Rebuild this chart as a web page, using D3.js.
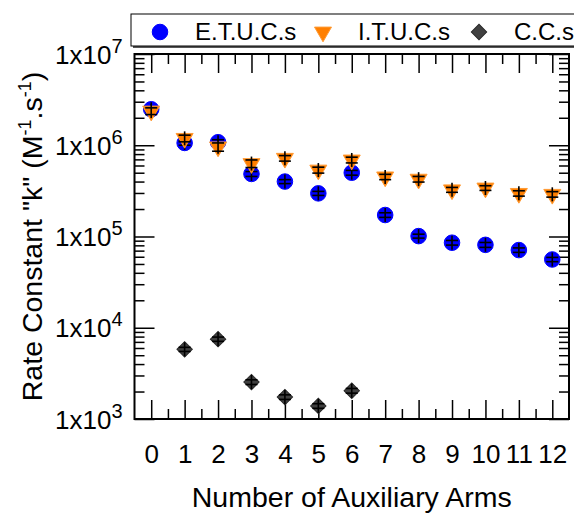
<!DOCTYPE html>
<html>
<head>
<meta charset="utf-8">
<script src="https://cdn.jsdelivr.net/npm/d3@7"></script>
<style>
  body { margin: 0; background: #fff; }
  text { font-family: "Liberation Sans", Arial, sans-serif; fill: #000; }
</style>
</head>
<body>
<svg id="chart" width="574" height="516"></svg>
<script>
// data
let arms = [0, 1, 2, 3, 4, 5, 6, 7, 8, 9, 10, 11, 12];
let seriesNames = ["E.T.U.C.s", "I.T.U.C.s", "C.C.s"];
let etucs = [2.48e6, 1.06e6, 1.08e6, 4.85e5, 4.0e5, 2.97e5, 5.0e5, 1.72e5, 1.01e5, 8.55e4, 8.1e4, 7.1e4, 5.6e4];
let etucsErr = [1.5e5, 6e4, 7e4, 3e4, 2e4, 1.5e4, 3e4, 1e4, 5e3, 5e3, 5e3, 4e3, 3e3];
let itucs = [2.37e6, 1.19e6, 9.6e5, 6.3e5, 7.2e5, 5.35e5, 6.9e5, 4.5e5, 4.25e5, 3.25e5, 3.4e5, 2.97e5, 2.9e5];
let itucsErr = [2e5, 1e5, 1e5, 6e4, 5e4, 4e4, 5e4, 3e4, 3e4, 2e4, 2e4, 2e4, 2e4];
let ccArms = [1, 2, 3, 4, 5, 6];
let ccs = [5.8e3, 7.5e3, 2.54e3, 1.74e3, 1.39e3, 2.04e3];
let ccsErr = [3e2, 4e2, 1.5e2, 1e2, 8e1, 1.2e2];
let yDecades = [1e3, 1e4, 1e5, 1e6, 1e7];

function RateChart() {
    let self = this;
    let svg = d3.select('#chart');
    let left = 134.5, right = 569, top = 54, bottom = 419;

    self.x = d3.scaleLinear().domain([-0.5, 12.5]).range([left, right]);
    self.y = d3.scaleLog().domain([1e3, 1e7]).range([bottom, top]);

    let minorY = self.y.ticks().filter(v => yDecades.indexOf(v) < 0);
    let minorX = arms.slice(0, -1).map(a => a + 0.5);

    function styleAxis(g) {
        g.select('.domain').remove();
        g.selectAll('.tick line').attr('stroke', '#000').attr('stroke-width', 1.5);
    }

    // bottom axis, ticks pointing in
    svg.append('g').attr('transform', 'translate(0,' + bottom + ')')
        .call(d3.axisBottom(self.x).tickValues(arms).tickSizeInner(-19).tickPadding(26).tickFormat(d3.format('d')))
        .call(styleAxis)
        .call(g => g.selectAll('.tick text').attr('font-size', 26));
    svg.append('g').attr('transform', 'translate(0,' + bottom + ')')
        .call(d3.axisBottom(self.x).tickValues(minorX).tickSizeInner(-10).tickFormat(''))
        .call(styleAxis);
    // top mirror
    svg.append('g').attr('transform', 'translate(0,' + top + ')')
        .call(d3.axisTop(self.x).tickValues(arms).tickSizeInner(-19).tickFormat(''))
        .call(styleAxis);
    svg.append('g').attr('transform', 'translate(0,' + top + ')')
        .call(d3.axisTop(self.x).tickValues(minorX).tickSizeInner(-10).tickFormat(''))
        .call(styleAxis);

    // left axis with 1x10^n labels
    let yAxis = svg.append('g').attr('transform', 'translate(' + left + ',0)')
        .call(d3.axisLeft(self.y).tickValues(yDecades).tickSizeInner(-20).tickPadding(12).tickFormat(''))
        .call(styleAxis);
    yAxis.selectAll('.tick text')
        .attr('font-size', 26)
        .attr('dy', '0.35em')
        .each(function(d) {
            let t = d3.select(this);
            t.append('tspan').text('1x10');
            t.append('tspan').attr('font-size', 20).attr('dy', -11).text(Math.round(Math.log10(d)));
        });
    svg.append('g').attr('transform', 'translate(' + left + ',0)')
        .call(d3.axisLeft(self.y).tickValues(minorY).tickSizeInner(-10).tickFormat(''))
        .call(styleAxis);
    // right mirror
    svg.append('g').attr('transform', 'translate(' + right + ',0)')
        .call(d3.axisRight(self.y).tickValues(yDecades).tickSizeInner(-20).tickFormat(''))
        .call(styleAxis);
    svg.append('g').attr('transform', 'translate(' + right + ',0)')
        .call(d3.axisRight(self.y).tickValues(minorY).tickSizeInner(-10).tickFormat(''))
        .call(styleAxis);

    // frame
    svg.append('rect')
        .attr('x', left).attr('y', top)
        .attr('width', right - left).attr('height', bottom - top)
        .attr('fill', 'none').attr('stroke', '#000').attr('stroke-width', 2);

    // axis titles
    svg.append('text')
        .attr('x', (left + right) / 2).attr('y', 507)
        .attr('text-anchor', 'middle').attr('font-size', 28.5)
        .text('Number of Auxiliary Arms');
    let yTitle = svg.append('text')
        .attr('transform', 'translate(42,' + ((top + bottom) / 2) + ') rotate(-90)')
        .attr('text-anchor', 'middle').attr('font-size', 28.5);
    yTitle.append('tspan').text('Rate Constant "k" (M');
    yTitle.append('tspan').attr('font-size', 18).attr('dy', -11).text('-1');
    yTitle.append('tspan').attr('dy', 11).text('.s');
    yTitle.append('tspan').attr('font-size', 18).attr('dy', -11).text('-1');
    yTitle.append('tspan').attr('dy', 11).text(')');

    let circle = d3.symbol().type(d3.symbolCircle).size(190)();
    let triangle = d3.symbol().type(d3.symbolTriangle).size(125)();
    let diamond = d3.symbol().type(d3.symbolSquare).size(118)();

    let series = [
        {xs: arms, vals: etucs, errs: etucsErr, path: circle, rot: 0, fill: '#0000ff', stroke: '#0000ff'},
        {xs: arms, vals: itucs, errs: itucsErr, path: triangle, rot: 180, fill: '#ff7f00', stroke: '#ff9a33'},
        {xs: ccArms, vals: ccs, errs: ccsErr, path: diamond, rot: 45, fill: '#404040', stroke: '#2a2a2a'}
    ];

    series.forEach(function(s) {
        let pts = s.vals.map((v, i) => ({x: s.xs[i], v: v, e: s.errs[i]}));
        let g = svg.append('g');
        g.selectAll('path').data(pts).enter().append('path')
            .attr('d', s.path)
            .attr('transform', d => 'translate(' + self.x(d.x) + ',' + self.y(d.v) + ') rotate(' + s.rot + ')')
            .attr('fill', s.fill).attr('stroke', s.stroke).attr('stroke-width', 1);
        // error bars
        let eb = g.selectAll('g.err').data(pts).enter().append('g')
            .attr('class', 'err')
            .attr('transform', d => 'translate(' + self.x(d.x) + ',0)')
            .attr('stroke', '#000').attr('stroke-width', 1.6);
        eb.append('line')
            .attr('y1', d => Math.min(self.y(d.v + d.e), self.y(d.v) - 7))
            .attr('y2', d => Math.max(self.y(d.v - d.e), self.y(d.v) + 7));
        eb.append('line').attr('x1', -6).attr('x2', 6)
            .attr('y1', d => self.y(d.v + d.e)).attr('y2', d => self.y(d.v + d.e));
        eb.append('line').attr('x1', -6).attr('x2', 6)
            .attr('y1', d => self.y(d.v - d.e)).attr('y2', d => self.y(d.v - d.e));
    });

    // legend
    let lg = svg.append('g');
    lg.append('rect').attr('x', 133).attr('y', 16).attr('width', 460).attr('height', 32).attr('fill', '#555');
    lg.append('rect').attr('x', 131).attr('y', 14).attr('width', 460).attr('height', 32)
        .attr('fill', '#fff').attr('stroke', '#000').attr('stroke-width', 1);
    let itemX = [160, 323, 479];
    series.forEach(function(s, i) {
        lg.append('path').attr('d', s.path)
            .attr('transform', 'translate(' + itemX[i] + ',32) rotate(' + s.rot + ')')
            .attr('fill', s.fill).attr('stroke', s.stroke);
        lg.append('text').attr('x', itemX[i] + 35).attr('y', 39.5)
            .attr('font-size', 24).text(seriesNames[i]);
    });
}

new RateChart();
</script>
</body>
</html>
